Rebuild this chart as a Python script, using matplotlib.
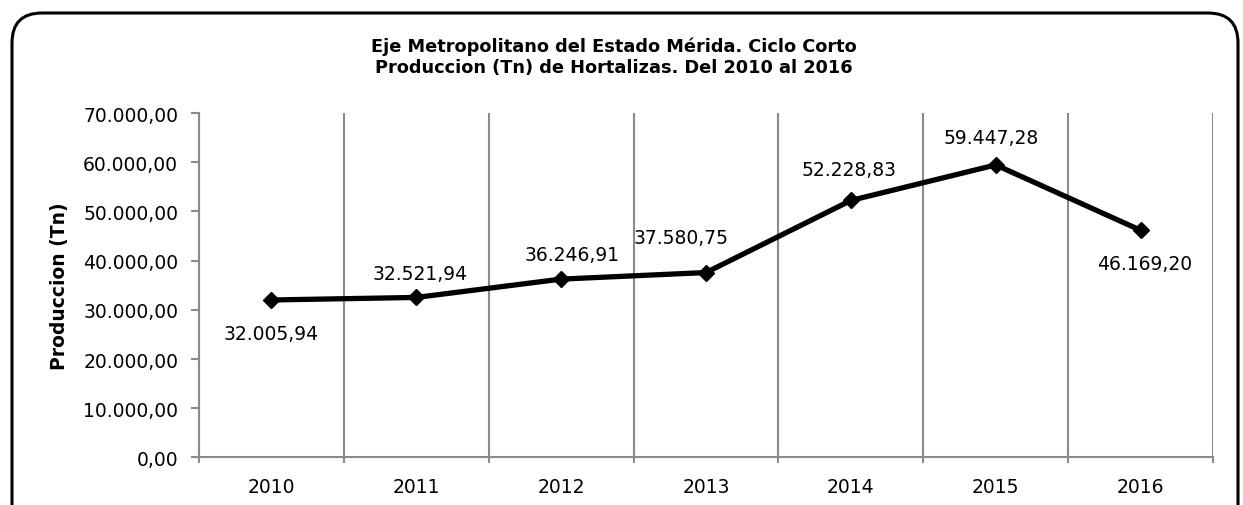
import matplotlib
matplotlib.use('Agg')
import matplotlib.pyplot as plt
from matplotlib.patches import FancyBboxPatch
from matplotlib.transforms import IdentityTransform
from matplotlib.ticker import FuncFormatter, MultipleLocator


years = ['2010', '2011', '2012', '2013', '2014', '2015', '2016']
produccion = [32005.94, 32521.94, 36246.91, 37580.75, 52228.83, 59447.28, 46169.20]

# label offsets from each point, in points (dx, dy)
label_offsets = [(0, -24), (3, 17), (8, 18), (-18, 25), (-1, 22), (-3, 20), (3, -24)]

TITLE = 'Eje Metropolitano del Estado Mérida. Ciclo Corto\nProduccion (Tn) de Hortalizas. Del 2010 al 2016'
GRID_COLOR = '#8a8a8a'


def fmt_es(v, pos=None):
	# 12345.6 -> 12.345,60
	s = '{:,.2f}'.format(v)
	return s.replace(',', 'X').replace('.', ',').replace('X', '.')


plt.rcParams['font.family'] = 'DejaVu Sans'

fig = plt.figure(figsize=(12.43, 5.06), dpi=100)
ax = fig.add_axes([0.1601, 0.0939, 0.8158, 0.6808])

x = list(range(len(years)))
ax.plot(x, produccion, color='black', lw=3.8, marker='D', ms=8.5, mew=1,
	mfc='black', mec='black', zorder=3)

for i, v in enumerate(produccion):
	dx, dy = label_offsets[i]
	ax.annotate(fmt_es(v), (x[i], v), xytext=(dx, dy), textcoords='offset points',
		ha='center', va='center', fontsize=13.5, color='black')

ax.set_xlim(-0.5, len(years) - 0.5)
ax.set_ylim(0, 70000)
ax.yaxis.set_major_locator(MultipleLocator(10000))
ax.yaxis.set_major_formatter(FuncFormatter(fmt_es))

ax.set_xticks(x)
ax.set_xticklabels(years)
ax.set_xticks([i - 0.5 for i in range(len(years) + 1)], minor=True)
ax.tick_params(axis='x', which='major', length=0, pad=14, labelsize=13.5)
ax.tick_params(axis='x', which='minor', length=4, width=1.5, color=GRID_COLOR, direction='out')
ax.tick_params(axis='y', which='major', length=6, width=1.5, color=GRID_COLOR, pad=9, labelsize=13.5)
ax.grid(which='minor', axis='x', color=GRID_COLOR, lw=1.5)
ax.set_axisbelow(True)

for side in ['top', 'right']:
	ax.spines[side].set_visible(False)
for side in ['left', 'bottom']:
	ax.spines[side].set_color(GRID_COLOR)
	ax.spines[side].set_linewidth(1.5)

ax.set_ylabel('Produccion (Tn)', fontsize=13.5, fontweight='bold')
ax.yaxis.set_label_coords(-0.128, 0.5)

fig.text(0.494, 0.887, TITLE, ha='center', va='center', fontsize=12.8,
	fontweight='bold', linespacing=1.2)

# rounded chart border (pixels), bottom edge runs off the picture
border = FancyBboxPatch((12, -30), 1226, 522, boxstyle='round,pad=0,rounding_size=30',
	transform=IdentityTransform(), fill=False, ec='black', lw=2.2, clip_on=False)
fig.patches.append(border)

fig.savefig('out.png', dpi=100)
